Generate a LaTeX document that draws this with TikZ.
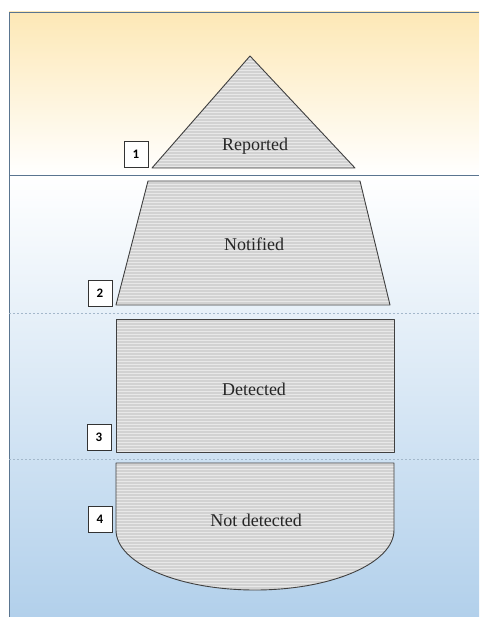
\documentclass[tikz,border=0pt]{standalone}
\usepackage{fontspec}
\setmainfont{Liberation Serif}
\newfontfamily\numfont{Carlito}
\definecolor{topyel}{HTML}{FDE8B6}
\definecolor{botblue}{HTML}{B2D0EB}
\definecolor{frameline}{HTML}{5A7590}
\definecolor{stripeA}{HTML}{D2D2D2}
\definecolor{stripeB}{HTML}{E8E8E8}
\tikzset{
  numbox/.style={draw=black!80, fill=white, line width=0.8pt, minimum width=24pt, minimum height=26pt, inner sep=0pt, font=\numfont\bfseries\fontsize{13}{15}\selectfont},
  lbl/.style={font=\fontsize{18}{20}\selectfont, text=black!85},
  outline/.style={draw=black!75, line width=0.9pt, line join=round},
  sepdash/.style={draw=botblue!70!gray, dashed, dash pattern=on 2pt off 2pt, line width=0.4pt}
}
\newcommand{\stripefill}[3]{% path, ymin, ymax
  \begin{scope}
    \clip #1;
    \fill[stripeB] (100,#2) rectangle (400,#3);
    \foreach \yy in {#2,...,#3} {
      \pgfmathparse{mod(\yy,3)==0 ? 1 : 0}
      \ifnum\pgfmathresult=1
        \draw[stripeA, line width=1.1pt] (100,\yy) -- (400,\yy);
      \fi
    }
  \end{scope}
  \draw[outline] #1;
}
\begin{document}
\begin{tikzpicture}[x=1pt,y=-1pt]
\useasboundingbox (0,0) rectangle (479,617);
% background
\fill[white] (0,0) rectangle (479,617);
\shade[top color=topyel, bottom color=white] (9,12) rectangle (479,175);
\shade[top color=white, bottom color=botblue] (9,175) rectangle (479,617);
\draw[frameline, line width=0.6pt] (479,12) -- (9,12) -- (9,617);
\draw[frameline, line width=0.8pt] (9,175) -- (479,175);
\draw[sepdash] (9,313) -- (479,313);
\draw[sepdash] (9,459) -- (479,459);
% shapes
\stripefill{(250,56) -- (355,168) -- (152,168) -- cycle}{56}{168}
\stripefill{(148,181) -- (360,181) -- (390,305) -- (116,305) -- cycle}{181}{305}
\stripefill{(116,319) rectangle (394,452)}{319}{452}
\stripefill{(116,463) -- (394,463) -- (394,530) arc[start angle=0, end angle=180, x radius=139, y radius=60] -- cycle}{463}{591}
% labels
\node[lbl] (rep) at (255,146) {Reported};
\node[lbl] (not) at (254,244) {Notified};
\node[lbl] (det) at (254,389) {Detected};
\node[lbl] (nd) at (256,520) {Not detected};
% number boxes
\node[numbox] (n1) at (136,154) {1};
\node[numbox] (n2) at (100,293) {2};
\node[numbox] (n3) at (99,437) {3};
\node[numbox] (n4) at (100,519) {4};
\end{tikzpicture}
\end{document}
